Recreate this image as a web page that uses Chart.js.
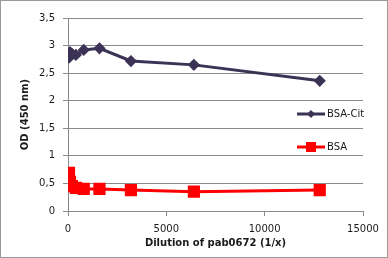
<!DOCTYPE html>
<html>
<head>
<meta charset="utf-8">
<script src="https://cdn.jsdelivr.net/npm/chart.js@4/dist/chart.umd.min.js"></script>
<style>
  html, body { margin: 0; padding: 0; background: #fff; }
  #wrap { width: 388px; height: 258px; position: relative; }
</style>
</head>
<body>
<div id="wrap"><canvas id="odChart" width="388" height="258"></canvas></div>
<script>
// dilutions (1/x) and OD readings
const dilutions = [50, 100, 200, 400, 800, 1600, 3200, 6400, 12800]
const bsaCit = [2.78, 2.88, 2.85, 2.83, 2.92, 2.95, 2.72, 2.65, 2.36]
const bsa = [0.69, 0.53, 0.45, 0.42, 0.40, 0.40, 0.38, 0.35, 0.38]
const seriesNames = ['BSA-Cit', 'BSA']
const xTicks = [0, 5000, 10000, 15000]
const yTicks = [0, 0.5, 1, 1.5, 2, 2.5, 3, 3.5]

const gridGray = '#8a8a8a'
const textCol = '#1a1a1a'
const FONT = 'DejaVu Sans'

const toPoints = vals => dilutions.map((d, i) => ({x: d, y: vals[i]}))

// legend sits inside the plot on the right, like the excel one
const insideLegend = {
    id: 'insideLegend',
    afterDraw(chart){
        const ctx = chart.ctx
        const rows = [114, 147]
        chart.data.datasets.forEach((ds, i) => {
            const y = rows[i]
            ctx.save()
            ctx.strokeStyle = ds.borderColor
            ctx.lineWidth = 3
            ctx.beginPath()
            ctx.moveTo(297, y)
            ctx.lineTo(325, y)
            ctx.stroke()
            ctx.fillStyle = ds.borderColor
            if (ds.pointStyle === 'rect') {
                ctx.fillRect(306, y - 5, 10, 10)
            } else {
                ctx.beginPath()
                ctx.moveTo(311, y - 4)
                ctx.lineTo(315, y)
                ctx.lineTo(311, y + 4)
                ctx.lineTo(307, y)
                ctx.closePath()
                ctx.fill()
            }
            ctx.fillStyle = textCol
            ctx.font = '10px "' + FONT + '"'
            ctx.textBaseline = 'middle'
            ctx.fillText(ds.label, 327, y + 0.5)
            ctx.restore()
        })
        // outer frame
        ctx.save()
        ctx.strokeStyle = '#9a9a9a'
        ctx.lineWidth = 1
        ctx.strokeRect(0.5, 0.5, 387, 257)
        ctx.restore()
    }
}

const config = {
    type: 'line',
    data: {
        datasets: [{
            label: seriesNames[0],
            data: toPoints(bsaCit),
            borderColor: '#3b3256',
            backgroundColor: '#3b3256',
            borderWidth: 3,
            pointStyle: 'rectRot',
            pointRadius: 4,
            tension: 0
        }, {
            label: seriesNames[1],
            data: toPoints(bsa),
            borderColor: '#ff0000',
            backgroundColor: '#ff0000',
            borderWidth: 3,
            pointStyle: 'rect',
            pointRadius: 6.5,
            tension: 0
        }]
    },
    options: {
        responsive: false,
        animation: false,
        layout: {padding: {left: 0, right: 25, top: 18, bottom: 0}},
        plugins: {
            legend: {display: false},
            tooltip: {enabled: false}
        },
        scales: {
            x: {
                type: 'linear',
                min: 0,
                max: 15000,
                afterBuildTicks: s => { s.ticks = xTicks.map(v => ({value: v})) },
                afterFit: s => { s.height = 47 },
                grid: {drawOnChartArea: false, drawTicks: true, tickLength: 5, color: gridGray},
                border: {color: gridGray},
                ticks: {
                    color: textCol,
                    font: {family: FONT, size: 10},
                    padding: 7,
                    maxRotation: 0,
                    callback: v => String(v)
                },
                title: {
                    display: true,
                    text: 'Dilution of pab0672 (1/x)',
                    color: textCol,
                    font: {family: FONT, size: 10, weight: 'bold'},
                    padding: {top: 0, bottom: 9}
                }
            },
            y: {
                min: 0,
                max: 3.5,
                afterBuildTicks: s => { s.ticks = yTicks.map(v => ({value: v})) },
                afterFit: s => { s.width = 68 },
                grid: {color: gridGray, tickLength: 5},
                border: {color: gridGray},
                ticks: {
                    color: textCol,
                    font: {family: FONT, size: 10},
                    padding: 8,
                    callback: v => String(v).replace('.', ',')
                },
                title: {
                    display: true,
                    text: 'OD (450 nm)',
                    color: textCol,
                    font: {family: FONT, size: 10, weight: 'bold'},
                    padding: {top: 19, bottom: 0}
                }
            }
        }
    },
    plugins: [insideLegend]
}

const myChart = new Chart(document.getElementById('odChart'), config)
</script>
</body>
</html>
